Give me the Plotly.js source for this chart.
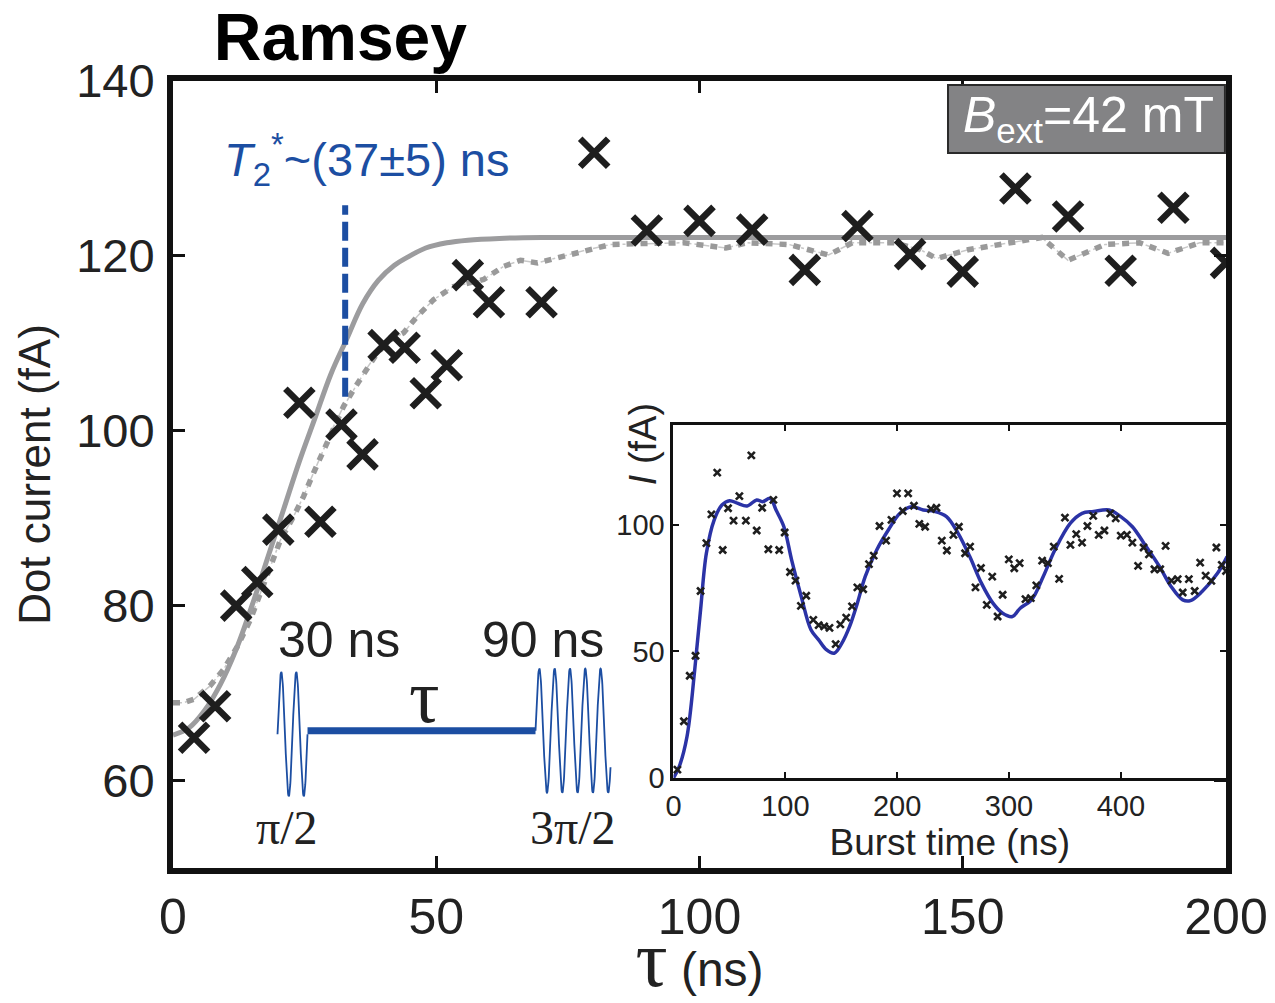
<!DOCTYPE html>
<html>
<head>
<meta charset="utf-8">
<script src="https://cdn.plot.ly/plotly-3.0.1.min.js"></script>
<style>html,body{margin:0;padding:0;background:#fff;}</style>
</head>
<body>
<div id="chart" style="width:1275px;height:1003px;"></div>
<script>
// ---------- main Ramsey data ----------
const tau = [4,8,12,16,20,24,28,32,36,40,44,48,52,56,60,70,80,90,100,110,120,130,140,150,160,170,180,190,200];
const dotCurrent = [64.9,68.5,80.0,82.7,88.7,103.2,89.6,100.7,97.3,109.8,109.5,104.3,107.5,117.8,114.7,114.7,131.8,122.9,124.0,123.0,118.4,123.4,120.2,118.2,127.7,124.5,118.3,125.5,119.2];

// solid grey fit
const fitTau = [0,3,6,9,12,15,18,21,24,27,30,33,36,39,42,45,48,52,56,62,70,200];
const fitSolid = [65.2,66.0,68.0,71.0,75.0,80.0,85.5,91.0,96.5,101.5,106.5,110.5,114.5,117.2,118.9,120.0,120.9,121.5,121.8,122.0,122.1,122.1];

// dotted grey simulation
const simTau = [0,2,4,7,9.6,12.2,14.7,16.6,18.5,20.4,22.9,24.8,26.7,28.6,30.5,32.4,34.3,37,38.8,41.3,43.8,46.4,49.5,53.3,56.5,59,62.8,66,69.2,72.3,78.7,83.1,88.2,97,105,109,117,124.5,129,137,142,145,151,157,165,170,177,183.6,189,195,200];
const simVal = [68.9,68.9,69.3,70.8,72.7,75.3,78.4,81.5,84.5,87.5,90.2,92.5,95.2,97.8,100.5,102.8,104.7,107.3,108.9,110.4,111.2,113.1,115,116.5,116.9,117.3,118.8,119.5,119.2,119.7,120.7,121.3,121.4,121.5,120.9,121.5,121.3,120.1,121.5,121.5,120.7,119.7,120.7,121.3,122.1,119.5,121.3,121.5,120.3,121.5,121.5];

// T2* marker
const t2Tau = [32.7, 32.7];
const t2Range = [103.9, 125.8];

// ---------- inset (Rabi) data ----------
const burstFitT = [0,5.2,12.1,19,24.2,29.4,36.4,43.3,50.2,57.1,65.8,74.4,79.6,86.5,91.7,98.7,105.6,114.2,122.9,129.8,136.7,143.7,150.6,157.5,164.4,171.4,181.7,192.1,202.5,212.9,223.3,233.7,244.1,254.5,264.9,275.3,285.6,294.3,303,310,320.2,330.6,341,354.9,365.3,375.6,389.5,399.9,410.3,420.6,434.5,444.9,455.3,462.2,472.6,486.4,495];
const burstFitI = [0,4.6,16.4,42.8,66.4,88.8,102,107.9,109.6,108.6,107.5,109.9,109.2,110.5,105.9,99.3,86.2,71.7,58.6,54.6,50.7,49.3,53.3,59.9,69.1,79.6,90.1,98,104.6,107.2,105.9,105.3,103.3,96.7,87.5,77,69.1,65.1,63.8,67.1,70.4,79.6,90.1,100.7,104.6,105.3,105.9,103.3,99.3,92.8,83.6,75.7,70.4,70.1,73.7,80.9,87.5];

const burstT = [3.5,9.3,14.5,19.7,24.2,29.4,33.9,39.1,44,48.8,53.7,58.9,64.7,69.6,74.4,79.3,84.8,89.3,94.5,99.4,104.2,109.1,113.9,118.7,125,129.8,134.7,139.5,145,149.2,154.4,159.6,164.4,169.6,174.8,179,184.2,190.1,194.9,199.8,205,209.8,215,219.8,225,230.2,235.1,239.9,244.4,250.3,255.2,260.7,265.2,270,274.9,280.1,285,289.8,294.3,299.8,304.7,309.5,314.7,319.5,324.4,329.6,334.8,340,344.8,350,354.9,360.1,365.3,370.1,375.3,380.2,385.3,390.5,395.4,399.9,405.4,410.3,415.4,420.3,425.1,430,435.2,440,445.2,450.8,455.3,460.8,466,470.9,475.8,480.9,485.4,490.2,494];
const burstI = [3.3,22.4,40.4,48.3,73.9,92.8,104.2,120.7,90.1,106.6,101.7,111.4,101.7,127.5,97.8,106.8,90.4,109.9,90.1,97,81.4,78,68,72,62.5,60.4,59.9,59.3,52.9,60.7,63.4,67.8,75.3,74.6,84.5,87.9,99.6,93.8,102,112.5,105.5,112.5,107.6,100.4,99.3,106.3,106.8,93.8,89.9,96.1,99.3,88.8,91.4,75.3,83,68.4,79.6,63.8,72.4,86.4,82.9,84.9,70.7,71.1,76.1,85.9,84.9,91.4,78.7,102.9,92.1,96.4,93,99.6,103.6,96.1,97.8,104.6,102.6,95.8,96.1,93,83.8,91.1,88.4,82.5,82.5,91.7,78,78.6,73.3,78.6,73.9,85.1,80,77.9,91.1,84.2,81.8];

// tick labels
const mainXTicks = [0,50,100,150,200];
const mainYTicks = [60,80,100,120,140];
const insetXTicks = [0,100,200,300,400];
const insetYTicks = [0,50,100];

// ---------- decorative pulse schematic (drawing, not data) ----------
function pulse(x0, x1, cycles, base, amp) {
  const xs = [], ys = [];
  const n = 60 * cycles;
  for (let i = 0; i <= n; i++) {
    const f = i / n;
    xs.push(x0 + (x1 - x0) * f);
    ys.push(base + amp * Math.sin(2 * Math.PI * cycles * f));
  }
  return {xs, ys};
}
const p1 = pulse(19.85, 25.55, 2, 65.3, 7.1);
const p2 = pulse(68.85, 83.1, 4.9, 65.7, 7.1);
const waitTau = [25.55, 68.85];
const waitVal = [65.7, 65.7];

const BLUE = '#1c4ea2';
const GREY = '#9c9c9e';

const traces = [
  {x: simTau, y: simVal, mode: 'lines', line: {color: '#c8c8c8', width: 1.5, dash: 'dashdot'}, xaxis: 'x', yaxis: 'y'},
  {x: simTau, y: simVal, mode: 'lines', line: {color: '#9a9a9a', width: 5.5, dash: '7px,7px'}, xaxis: 'x', yaxis: 'y'},
  {x: fitTau, y: fitSolid, mode: 'lines', line: {color: GREY, width: 5, shape: 'spline'}, xaxis: 'x', yaxis: 'y'},
  {x: t2Tau, y: t2Range, mode: 'lines', line: {color: BLUE, width: 6, dash: '19px,7px'}, xaxis: 'x', yaxis: 'y'},
  {x: p1.xs, y: p1.ys, mode: 'lines', line: {color: BLUE, width: 1.8}, xaxis: 'x', yaxis: 'y'},
  {x: p2.xs, y: p2.ys, mode: 'lines', line: {color: BLUE, width: 1.8}, xaxis: 'x', yaxis: 'y'},
  {x: waitTau, y: waitVal, mode: 'lines', line: {color: BLUE, width: 7}, xaxis: 'x', yaxis: 'y'},
  {x: tau, y: dotCurrent, mode: 'markers', marker: {symbol: 'x-thin', size: 28, color: '#1e1e1e', line: {color: '#1e1e1e', width: 6.5}}, xaxis: 'x', yaxis: 'y'},
  // inset
  {x: burstFitT, y: burstFitI, mode: 'lines', line: {color: '#2b33a6', width: 3.5, shape: 'spline'}, xaxis: 'x2', yaxis: 'y2'},
  {x: burstT, y: burstI, mode: 'markers', cliponaxis: false, marker: {symbol: 'x-thin', size: 7, color: '#1e1e1e', line: {color: '#1e1e1e', width: 2.6}}, xaxis: 'x2', yaxis: 'y2'}
];

const FONT = 'Liberation Sans, Arial, Helvetica, sans-serif';
const SERIF = 'Liberation Serif, Times New Roman, serif';

const layout = {
  width: 1275, height: 1003,
  margin: {l: 173, r: 49, t: 81, b: 135, pad: 0},
  paper_bgcolor: '#ffffff', plot_bgcolor: '#ffffff',
  showlegend: false,
  hovermode: false,
  font: {family: FONT, color: '#222'},
  title: {text: '<b>Ramsey</b>', font: {family: FONT, size: 66, color: '#000'}, xref: 'container', yref: 'container', x: 0.267, xanchor: 'center', y: 0.963, yanchor: 'middle'},
  xaxis: {
    domain: [0, 1], range: [0, 200], tickvals: mainXTicks, ticktext: mainXTicks.map(String),
    ticks: 'inside', ticklen: 12, tickwidth: 3, tickcolor: '#111',
    showline: true, linewidth: 6, linecolor: '#111', mirror: 'ticks',
    showgrid: false, zeroline: false, tickfont: {size: 50, color: '#222'},
    ticklabelstandoff: 0,
    title: {text: '<span style="font-family:Liberation Serif;font-size:80px">τ</span> (ns)', font: {size: 48, color: '#222'}, standoff: 8}
  },
  yaxis: {
    domain: [0, 1], range: [50, 140], tickvals: mainYTicks, ticktext: mainYTicks.map(String),
    ticks: 'inside', ticklen: 12, tickwidth: 3, tickcolor: '#111',
    showline: true, linewidth: 6, linecolor: '#111', mirror: 'ticks',
    showgrid: false, zeroline: false, tickfont: {size: 47, color: '#222'},
    ticklabelstandoff: 3,
    title: {text: 'Dot current (fA)', font: {size: 44, color: '#222'}, standoff: 14}
  },
  xaxis2: {
    domain: [0.4753, 1], anchor: 'y2', range: [0, 494], tickvals: insetXTicks, ticktext: insetXTicks.map(String),
    ticks: 'inside', ticklen: 6, tickwidth: 2, tickcolor: '#111',
    showline: true, linewidth: 3, linecolor: '#111', mirror: 'ticks',
    showgrid: false, zeroline: false, tickfont: {size: 29, color: '#222'},
    ticklabelstandoff: 0,
    title: {text: 'Burst time (ns)', font: {size: 37, color: '#222'}, standoff: 0}
  },
  yaxis2: {
    domain: [0.1144, 0.5629], anchor: 'x2', range: [0, 139.5], tickvals: insetYTicks, ticktext: insetYTicks.map(String),
    ticks: 'inside', ticklen: 6, tickwidth: 2, tickcolor: '#111',
    showline: true, linewidth: 3, linecolor: '#111', mirror: 'ticks',
    showgrid: false, zeroline: false, tickfont: {size: 29, color: '#222'},
    ticklabelstandoff: 0
  },
  shapes: [
    {type: 'rect', xref: 'paper', yref: 'paper', x0: 0.736, x1: 0.999, y0: 0.9086, y1: 0.9949,
     fillcolor: '#838385', line: {color: '#2a2a2a', width: 2}, layer: 'above'}
  ],
  annotations: [
    {xref: 'paper', yref: 'paper', x: 0.869, y: 0.952, xanchor: 'center', yanchor: 'middle', showarrow: false,
     text: '<i>B</i><sub>ext</sub>=42 mT', font: {family: FONT, size: 50, color: '#ffffff'}},
    {xref: 'paper', yref: 'paper', x: 0.1842, y: 0.8997, xanchor: 'center', yanchor: 'middle', showarrow: false,
     text: '<i>T</i><sub>2</sub><sup>*</sup>~(37±5) ns', font: {family: FONT, size: 47, color: BLUE}},
    {xref: 'paper', yref: 'paper', x: 0.1576, y: 0.2902, xanchor: 'center', yanchor: 'middle', showarrow: false,
     text: '30 ns', font: {family: FONT, size: 50, color: '#222'}},
    {xref: 'paper', yref: 'paper', x: 0.3514, y: 0.2902, xanchor: 'center', yanchor: 'middle', showarrow: false,
     text: '90 ns', font: {family: FONT, size: 50, color: '#222'}},
    {xref: 'paper', yref: 'paper', x: 0.2393, y: 0.218, xanchor: 'center', yanchor: 'middle', showarrow: false,
     text: 'τ', font: {family: SERIF, size: 76, color: '#222'}},
    {xref: 'paper', yref: 'paper', x: 0.1083, y: 0.0514, xanchor: 'center', yanchor: 'middle', showarrow: false,
     text: 'π/2', font: {family: SERIF, size: 48, color: '#222'}},
    {xref: 'paper', yref: 'paper', x: 0.3799, y: 0.0514, xanchor: 'center', yanchor: 'middle', showarrow: false,
     text: '3π/2', font: {family: SERIF, size: 48, color: '#222'}},
    {xref: 'paper', yref: 'paper', x: 0.446, y: 0.538, xanchor: 'center', yanchor: 'middle', showarrow: false, textangle: -90,
     text: '<i>I</i> (fA)', font: {family: FONT, size: 38, color: '#222'}}
  ]
};

Plotly.newPlot('chart', traces, layout, {staticPlot: true, displayModeBar: false});
</script>
</body>
</html>
